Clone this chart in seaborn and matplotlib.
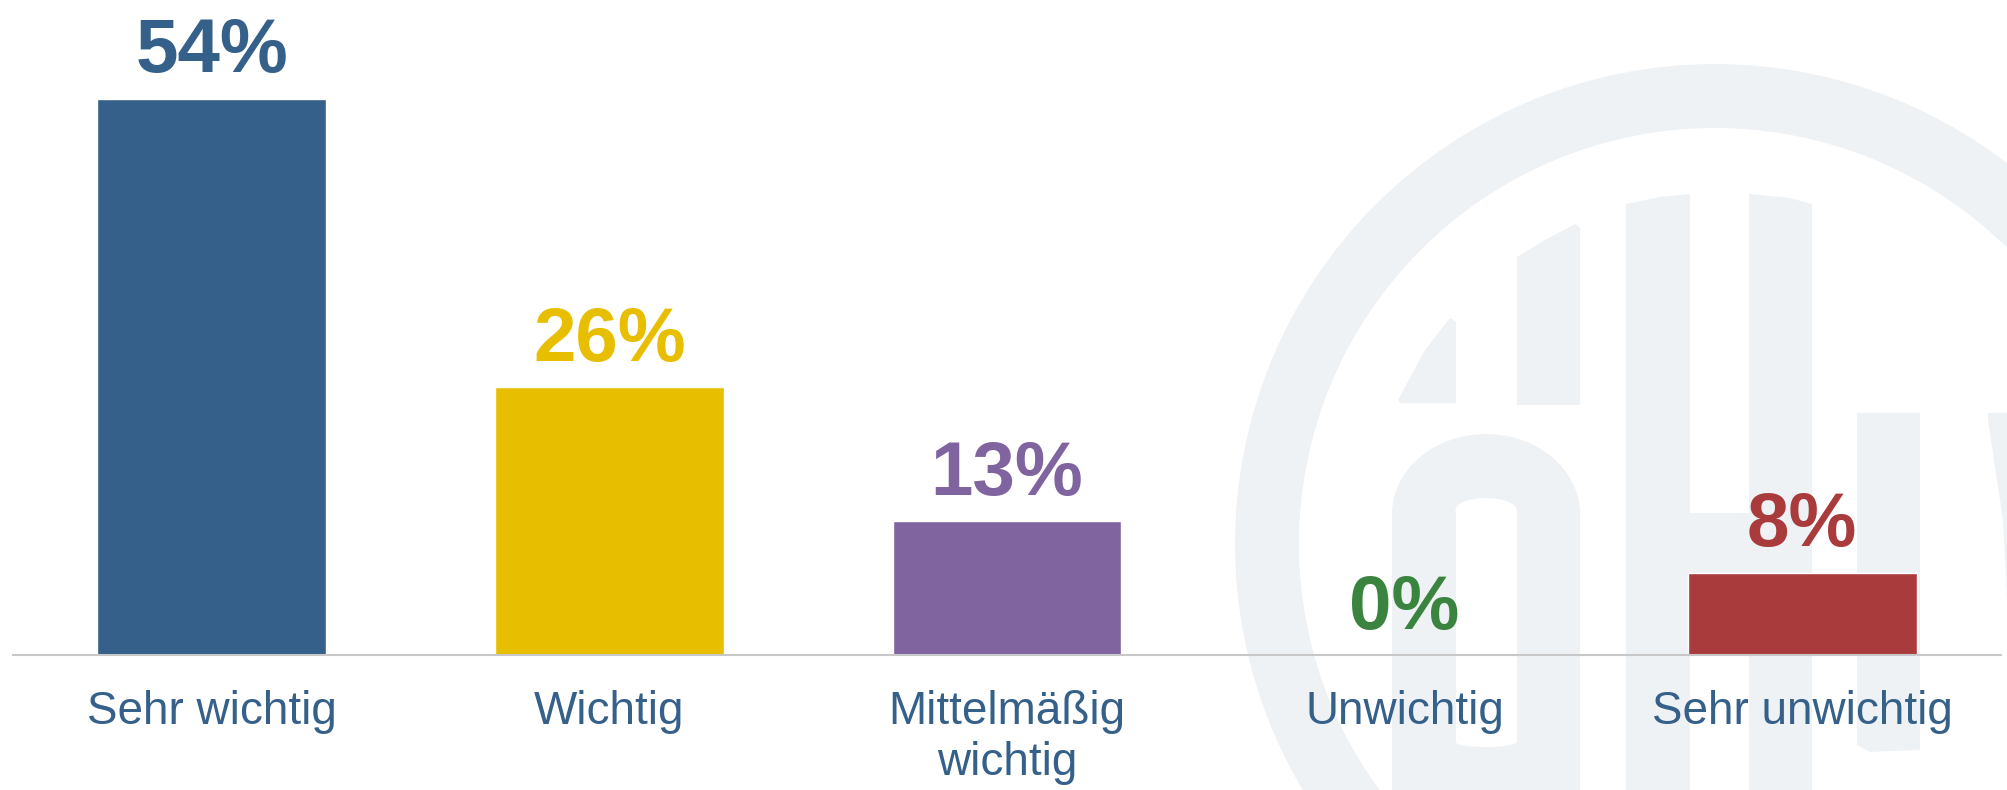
import numpy as np
import pandas as pd
import matplotlib
matplotlib.use("Agg")
import matplotlib.pyplot as plt
import seaborn as sns
from matplotlib.patches import Wedge, Polygon, Rectangle, Ellipse

# Data
categories = ["Sehr wichtig", "Wichtig", "Mittelmäßig\nwichtig", "Unwichtig", "Sehr unwichtig"]
values = [54, 26, 13, 0, 8]
colors = ["#35608A", "#E8BE00", "#8064A0", "#3A8440", "#AA3B3C"]
label_color = "#35608A"

df = pd.DataFrame({"category": categories, "value": values})

sns.set_theme(style="white")
plt.rcParams["font.family"] = ["Liberation Sans", "DejaVu Sans"]

fig = plt.figure(figsize=(20.07, 7.9), dpi=100)

# faint logo watermark in the background (pixel coordinates, y down)
bg = fig.add_axes([0, 0, 1, 1], zorder=0)
bg.set_xlim(0, 2007)
bg.set_ylim(790, 0)
bg.axis("off")
wm = "#EFF2F5"
bg.add_patch(Wedge((1715, 544), 480, 0, 360, width=64, color=wm, lw=0))
bg.add_patch(Polygon([(1398, 400), (1425, 350), (1450, 318), (1456, 322), (1456, 403), (1400, 403)], color=wm, lw=0))
bg.add_patch(Polygon([(1517, 257), (1545, 240), (1575, 224), (1580, 228), (1580, 405), (1517, 405)], color=wm, lw=0))
bg.add_patch(Ellipse((1486, 514), 188, 160, color=wm, lw=0))
bg.add_patch(Rectangle((1392, 514), 188, 300, color=wm, lw=0))
bg.add_patch(Ellipse((1486, 510), 61, 24, color="white", lw=0))
bg.add_patch(Rectangle((1456, 510), 61, 232, color="white", lw=0))
bg.add_patch(Ellipse((1486, 742), 61, 10, color="white", lw=0))
bg.add_patch(Polygon([(1626, 204), (1660, 197), (1690, 194), (1690, 513), (1749, 513), (1749, 194),
                      (1790, 198), (1812, 204), (1812, 800), (1749, 800), (1749, 620),
                      (1690, 620), (1690, 800), (1626, 800)], color=wm, lw=0))
bg.add_patch(Polygon([(1857, 413), (1920, 413), (1920, 750), (1870, 752), (1857, 745)], color=wm, lw=0))
bg.add_patch(Polygon([(1988, 413), (2007, 413), (2007, 600), (2003, 520), (1988, 420)], color=wm, lw=0))

ax = fig.add_axes([13 / 2007, 135 / 790, 1988 / 2007, 655 / 790], zorder=1)
ax.patch.set_alpha(0)

sns.barplot(data=df, x="category", y="value", hue="category", palette=colors,
            legend=False, width=0.575, saturation=1, ax=ax)

ax.set_xlim(-0.5, 4.5)
ax.set_ylim(0, 63.6)
ax.set_xlabel("")
ax.set_ylabel("")
ax.set_yticks([])
ax.tick_params(axis="x", length=0, pad=25)
for lab in ax.get_xticklabels():
    lab.set_fontsize(33)
    lab.set_color(label_color)
    lab.set_linespacing(1.2)
    lab.set_verticalalignment("top")

for s in ["top", "right", "left"]:
    ax.spines[s].set_visible(False)
ax.spines["bottom"].set_color("#C8C8C8")
ax.spines["bottom"].set_linewidth(1.5)

for i, v in enumerate(values):
    ax.annotate(f"{v}%", xy=(i, v), xytext=(0, 19), textcoords="offset points",
                ha="center", va="baseline", fontsize=55, fontweight="bold",
                color=colors[i])

fig.savefig("out.png", dpi=100)
